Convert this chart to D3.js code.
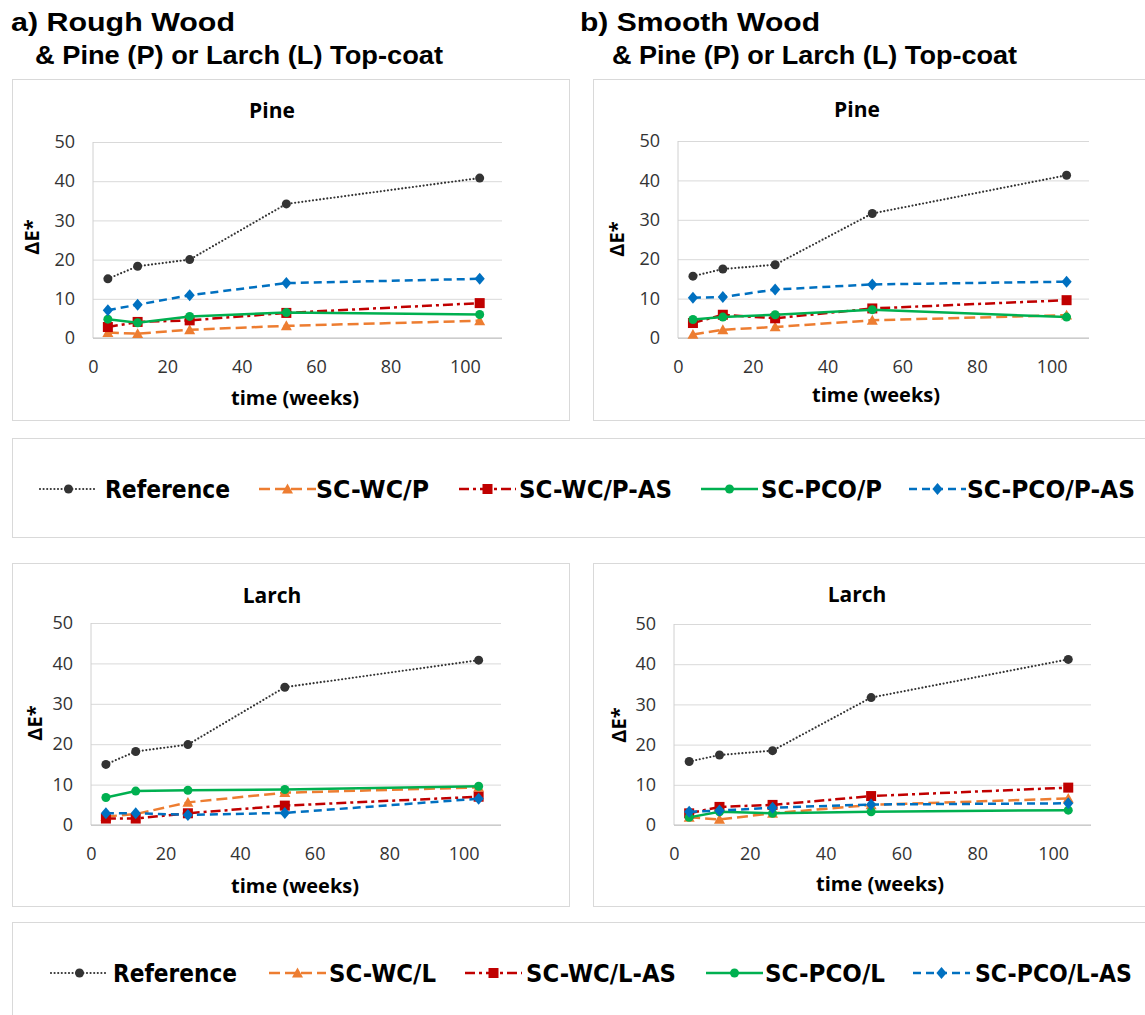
<!DOCTYPE html>
<html>
<head>
<meta charset="utf-8">
<script src="https://cdn.jsdelivr.net/npm/d3@7"></script>
<style>
  body { margin: 0; background: #fff; }
  svg { display: block; }
  .tick text { font-family: "Open Sans", sans-serif; font-size: 18px; fill: #333; }
</style>
</head>
<body>
<svg id="chart" width="1145" height="1015"></svg>
<script>
// time points (weeks)
var weeks = [4, 12, 26, 52, 104];
var xTicks = [0, 20, 40, 60, 80, 100];
var yTicks = [0, 10, 20, 30, 40, 50];

var pineNames = ["Reference", "SC-WC/P", "SC-WC/P-AS", "SC-PCO/P", "SC-PCO/P-AS"];
var larchNames = ["Reference", "SC-WC/L", "SC-WC/L-AS", "SC-PCO/L", "SC-PCO/L-AS"];

// delta E* values, order: Reference, SC-WC, SC-WC-AS, SC-PCO, SC-PCO-AS
var roughPine = [
    [15.1, 18.3, 20.0, 34.2, 40.8],
    [1.4, 1.1, 2.1, 3.1, 4.4],
    [2.8, 4.1, 4.5, 6.4, 8.9],
    [4.8, 3.9, 5.5, 6.5, 6.0],
    [7.1, 8.5, 10.9, 14.0, 15.1]
];
var smoothPine = [
    [15.7, 17.5, 18.6, 31.6, 41.3],
    [0.9, 2.1, 2.8, 4.5, 5.8],
    [3.8, 5.9, 5.0, 7.5, 9.6],
    [4.7, 5.3, 5.9, 7.2, 5.3],
    [10.2, 10.4, 12.3, 13.6, 14.3]
];
var roughLarch = [
    [15.0, 18.2, 19.9, 34.1, 40.8],
    [2.1, 2.7, 5.6, 8.0, 9.3],
    [1.6, 1.6, 2.9, 4.8, 7.0],
    [6.8, 8.4, 8.6, 8.8, 9.6],
    [2.9, 2.9, 2.5, 3.0, 6.5]
];
var smoothLarch = [
    [15.8, 17.4, 18.5, 31.7, 41.2],
    [1.9, 1.4, 2.9, 5.0, 6.6],
    [2.9, 4.5, 5.0, 7.2, 9.3],
    [1.9, 3.3, 2.9, 3.3, 3.7],
    [3.3, 3.6, 4.3, 5.1, 5.4]
];

var styles = [
    {color: "#333333", dash: "0,3.6", width: 2.2, shape: "circle", size: 4.5, cap: "round"},
    {color: "#ED7D31", dash: "11,5", width: 2.5, shape: "triangle", size: 5.5, cap: "butt"},
    {color: "#C00000", dash: "10,4,3,4", width: 2.5, shape: "square", size: 5, cap: "butt"},
    {color: "#00B050", dash: null, width: 2.5, shape: "circle", size: 4.5, cap: "butt"},
    {color: "#0070C0", dash: "8,5", width: 2.5, shape: "diamond", size: 6, cap: "butt"}
];

var svg = d3.select("#chart");

function marker(g, shape, cx, cy, s, color) {
    if (shape == "circle") {
        g.append("circle").attr("cx", cx).attr("cy", cy).attr("r", s).attr("fill", color);
    } else if (shape == "square") {
        g.append("rect").attr("x", cx - s).attr("y", cy - s).attr("width", 2 * s).attr("height", 2 * s).attr("fill", color);
    } else if (shape == "triangle") {
        g.append("path").attr("d", "M" + cx + "," + (cy - s) + "L" + (cx + s) + "," + (cy + s * 0.8) + "L" + (cx - s) + "," + (cy + s * 0.8) + "Z").attr("fill", color);
    } else {
        g.append("path").attr("d", "M" + cx + "," + (cy - s) + "L" + (cx + s * 0.85) + "," + cy + "L" + cx + "," + (cy + s) + "L" + (cx - s * 0.85) + "," + cy + "Z").attr("fill", color);
    }
}

// headers
function header(x, y, txt, len) {
    svg.append("text").attr("x", x).attr("y", y)
        .attr("font-family", "Liberation Sans, Arial, sans-serif").attr("font-weight", "bold").attr("font-size", "26px")
        .attr("textLength", len).attr("lengthAdjust", "spacingAndGlyphs")
        .text(txt);
}
header(11, 31, "a) Rough Wood", 224);
header(35, 64, "& Pine (P) or Larch (L) Top-coat", 408);
header(580, 31, "b) Smooth Wood", 240);
header(612, 64, "& Pine (P) or Larch (L) Top-coat", 405);

var panels = [
    {data: roughPine, title: "Pine", box: [12, 79, 557, 341], plot: [93, 142, 502, 338], title_xy: [272, 118], ylab: [32, 237], xlab: [295, 405]},
    {data: smoothPine, title: "Pine", box: [593, 79, 560, 341], plot: [678, 141, 1089, 338], title_xy: [857, 117], ylab: [617, 239], xlab: [876, 402]},
    {data: roughLarch, title: "Larch", box: [12, 563, 557, 343], plot: [91, 623, 501, 825], title_xy: [272, 603], ylab: [35, 723], xlab: [295, 893]},
    {data: smoothLarch, title: "Larch", box: [593, 563, 560, 343], plot: [674, 624, 1091, 825], title_xy: [857, 602], ylab: [619, 725], xlab: [880, 891]}
];

panels.forEach(function(p) {
    svg.append("rect")
        .attr("x", p.box[0] + 0.5).attr("y", p.box[1] + 0.5)
        .attr("width", p.box[2]).attr("height", p.box[3])
        .attr("fill", "none").attr("stroke", "#d9d9d9").attr("stroke-width", 1);

    var x = d3.scaleLinear().domain([0, 110]).range([p.plot[0], p.plot[2]]);
    var y = d3.scaleLinear().domain([0, 50]).range([p.plot[3], p.plot[1]]);
    var w = p.plot[2] - p.plot[0];

    // gridlines + y labels
    var gy = svg.append("g")
        .attr("transform", "translate(" + p.plot[0] + ",0)")
        .call(d3.axisLeft(y).tickValues(yTicks).tickSize(-w).tickPadding(18));
    gy.select(".domain").remove();
    gy.selectAll(".tick line").attr("stroke", "#d9d9d9").attr("stroke-width", 1);

    var gx = svg.append("g")
        .attr("transform", "translate(0," + p.plot[3] + ")")
        .call(d3.axisBottom(x).tickValues(xTicks).tickSize(0).tickPadding(22));
    gx.select(".domain").remove();

    // axis lines
    svg.append("line").attr("x1", p.plot[0]).attr("x2", p.plot[0])
        .attr("y1", p.plot[1]).attr("y2", p.plot[3]).attr("stroke", "#d0d0d0");
    svg.append("line").attr("x1", p.plot[0]).attr("x2", p.plot[2])
        .attr("y1", p.plot[3]).attr("y2", p.plot[3]).attr("stroke", "#bfbfbf");

    svg.append("text").attr("x", p.title_xy[0]).attr("y", p.title_xy[1])
        .attr("text-anchor", "middle")
        .attr("font-family", "Open Sans, sans-serif").attr("font-weight", "bold").attr("font-size", "21px")
        .text(p.title);
    svg.append("text").attr("x", p.xlab[0]).attr("y", p.xlab[1])
        .attr("text-anchor", "middle")
        .attr("font-family", "Open Sans, sans-serif").attr("font-weight", "bold").attr("font-size", "20px")
        .text("time (weeks)");
    svg.append("text")
        .attr("transform", "translate(" + (p.ylab[0] + 7) + "," + p.ylab[1] + ") rotate(-90)")
        .attr("text-anchor", "middle")
        .attr("font-family", "Open Sans, sans-serif").attr("font-weight", "bold").attr("font-size", "20px")
        .text("ΔE*");

    var line = d3.line().x(function(d, i) { return x(weeks[i]); }).y(function(d) { return y(d); });

    p.data.forEach(function(vals, k) {
        var st = styles[k];
        var g = svg.append("g");
        g.append("path").datum(vals)
            .attr("d", line)
            .attr("fill", "none")
            .attr("stroke", st.color)
            .attr("stroke-width", st.width)
            .attr("stroke-linecap", st.cap)
            .attr("stroke-dasharray", st.dash);
        vals.forEach(function(v, i) {
            marker(g, st.shape, x(weeks[i]), y(v), st.size, st.color);
        });
    });
});

// legends
var legends = [
    {names: pineNames, box: [12, 438, 1140, 99], cy: 489,
     lineX: [40, 259, 459, 701, 909], textX: [105, 316, 519, 761, 967], textW: [125, 113, 153, 121, 168]},
    {names: larchNames, box: [12, 922, 1140, 100], cy: 973,
     lineX: [51, 269, 465, 706, 913], textX: [113, 329, 526, 765, 975], textW: [124, 107, 150, 120, 157]}
];

legends.forEach(function(L) {
    svg.append("rect")
        .attr("x", L.box[0] + 0.5).attr("y", L.box[1] + 0.5)
        .attr("width", L.box[2]).attr("height", L.box[3])
        .attr("fill", "none").attr("stroke", "#d9d9d9");
    L.names.forEach(function(name, k) {
        var st = styles[k];
        var g = svg.append("g");
        var x0 = L.lineX[k], x1 = x0 + 57;
        g.append("line").attr("x1", x0).attr("x2", x1)
            .attr("y1", L.cy).attr("y2", L.cy)
            .attr("stroke", st.color).attr("stroke-width", st.width)
            .attr("stroke-linecap", st.cap)
            .attr("stroke-dasharray", st.dash);
        marker(g, st.shape, (x0 + x1) / 2, L.cy, st.size, st.color);
        g.append("text").attr("x", L.textX[k]).attr("y", L.cy + 9)
            .attr("font-family", "Liberation Sans Narrow, DejaVu Sans Condensed, Liberation Sans, sans-serif")
            .attr("font-weight", "bold").attr("font-size", "25px")
            .attr("textLength", L.textW[k]).attr("lengthAdjust", "spacingAndGlyphs")
            .text(name);
    });
});
</script>
</body>
</html>
